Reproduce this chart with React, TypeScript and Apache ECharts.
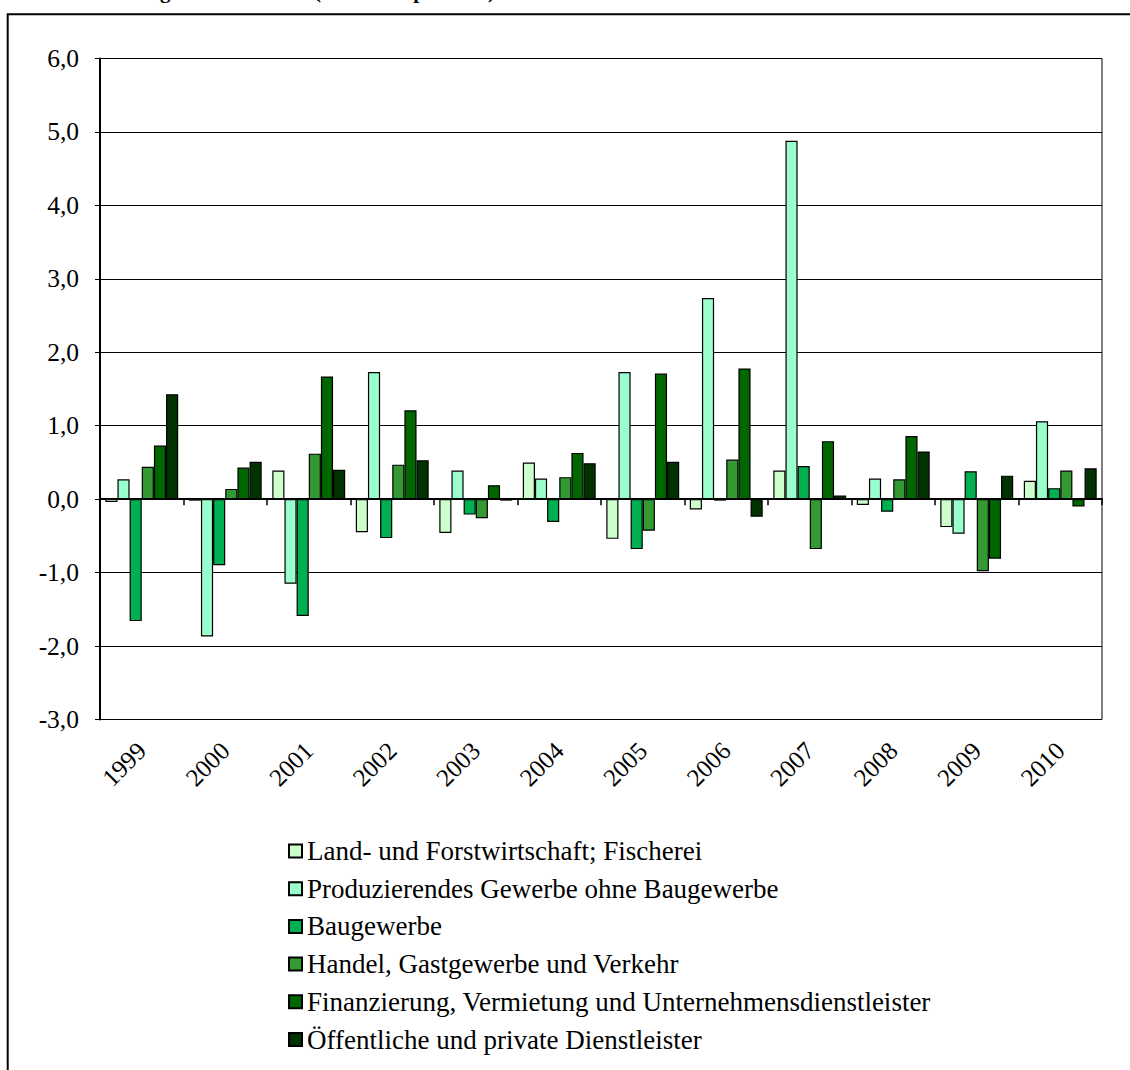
import React, { useEffect, useRef } from 'react';
import * as echarts from 'echarts';

const FONT = '"Liberation Serif", "Times New Roman", serif';

const years = ['1999', '2000', '2001', '2002', '2003', '2004', '2005', '2006', '2007', '2008', '2009', '2010'];

const seriesNames = [
  'Land- und Forstwirtschaft; Fischerei',
  'Produzierendes Gewerbe ohne Baugewerbe',
  'Baugewerbe',
  'Handel, Gastgewerbe und Verkehr',
  'Finanzierung, Vermietung und Unternehmensdienstleister',
  'Öffentliche und private Dienstleister',
];

const seriesColors = ['#CCFFCC', '#99FFCC', '#00B050', '#339933', '#006600', '#003300'];

const landForst = [-0.04, -0.02, 0.39, -0.45, -0.46, 0.5, -0.54, -0.14, 0.39, -0.08, -0.38, 0.25];
const produzierend = [0.27, -1.87, -1.15, 1.73, 0.39, 0.28, 1.73, 2.74, 4.88, 0.28, -0.47, 1.06];
const baugewerbe = [-1.66, -0.9, -1.59, -0.53, -0.21, -0.31, -0.68, -0.02, 0.45, -0.17, 0.38, 0.15];
const handel = [0.44, 0.14, 0.62, 0.47, -0.26, 0.3, -0.43, 0.54, -0.68, 0.27, -0.98, 0.39];
const finanzierung = [0.73, 0.43, 1.67, 1.21, 0.19, 0.63, 1.71, 1.78, 0.79, 0.86, -0.81, -0.1];
const dienstleister = [1.43, 0.51, 0.4, 0.53, -0.02, 0.49, 0.51, -0.24, 0.05, 0.65, 0.32, 0.42];

const yMin = -3;
const yMax = 6;
const yStep = 1;

const titleFragment = 'der vorhergehenden Klasse (in Prozentpunkten)';

export default function App() {
  const ref = useRef<HTMLDivElement>(null);

  useEffect(() => {
    if (!ref.current) return;
    const chart = echarts.init(ref.current, null, { renderer: 'svg' });
    const values = [landForst, produzierend, baugewerbe, handel, finanzierung, dienstleister];

    chart.setOption({
      animation: false,
      backgroundColor: '#ffffff',
      textStyle: { fontFamily: FONT },
      grid: {
        left: 100,
        top: 58.5,
        width: 1002,
        height: 661,
        show: true,
        borderColor: '#000',
        borderWidth: 1,
        backgroundColor: 'transparent',
      },
      xAxis: [
        {
          type: 'category',
          data: years,
          position: 'bottom',
          axisLine: { show: false, onZero: false },
          axisTick: { show: false },
          splitLine: { show: false },
          axisLabel: {
            rotate: 45,
            interval: 0,
            margin: 27,
            fontSize: 25,
            color: '#000',
            fontFamily: FONT,
          },
        },
        {
          type: 'category',
          data: years,
          position: 'top',
          axisLine: { show: true, onZero: true, lineStyle: { color: '#000', width: 2 } },
          axisTick: { show: true, inside: true, length: 6, interval: 0, lineStyle: { color: '#000', width: 1.5 } },
          axisLabel: { show: false },
          splitLine: { show: false },
        },
      ],
      yAxis: {
        type: 'value',
        min: yMin,
        max: yMax,
        interval: yStep,
        axisLine: { show: true, lineStyle: { color: '#000', width: 2 } },
        axisTick: { show: true, length: 5, lineStyle: { color: '#000', width: 1 } },
        splitLine: { show: true, lineStyle: { color: '#000', width: 1 } },
        axisLabel: {
          formatter: (v: number) => v.toFixed(1).replace('.', ','),
          fontSize: 25.5,
          color: '#000',
          margin: 21,
          fontFamily: FONT,
        },
      },
      legend: {
        orient: 'vertical',
        left: 288,
        top: 837.5,
        padding: 0,
        itemWidth: 13,
        itemHeight: 13,
        itemGap: 10.7,
        selectedMode: false,
        icon: 'rect',
        textStyle: { fontSize: 27, lineHeight: 27, color: '#000', fontFamily: FONT },
        data: seriesNames,
      },
      series: seriesNames.map((name, i) => ({
        name,
        type: 'bar',
        xAxisIndex: 0,
        data: values[i],
        barGap: '0%',
        barCategoryGap: '12.7%',
        itemStyle: { color: seriesColors[i], borderColor: '#000', borderWidth: 1.2 },
      })),
      graphic: [
        {
          type: 'rect',
          silent: true,
          shape: { x: 7.7, y: 14.3, width: 1300, height: 1300 },
          style: { fill: 'none', stroke: '#000', lineWidth: 2 },
        },
        {
          type: 'text',
          silent: true,
          x: 495,
          y: 1,
          style: {
            text: titleFragment,
            font: 'bold 21px "Liberation Serif", "Times New Roman", serif',
            fill: '#000',
            align: 'right',
            verticalAlign: 'bottom',
          },
        },
      ],
    });

    return () => chart.dispose();
  }, []);

  return (
    <div
      ref={ref}
      style={{ position: 'absolute', left: 0, top: 0, width: 1130, height: 1070 }}
    />
  );
}
